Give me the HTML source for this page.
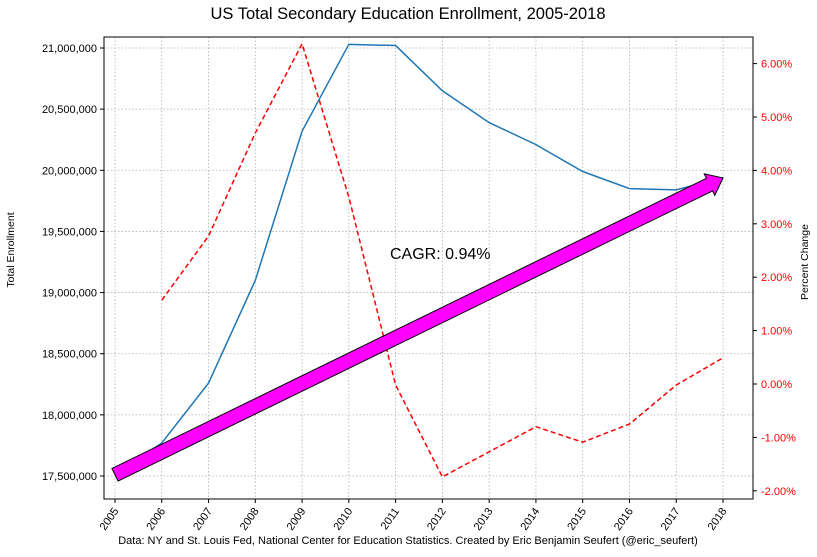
<!DOCTYPE html>
<html><head><meta charset="utf-8"><style>
body{margin:0;background:#fff;font-family:"Liberation Sans",sans-serif;}
svg text{font-family:"Liberation Sans",sans-serif;}
</style></head><body>
<svg id="c" width="817" height="552"></svg>
<script>
const years=[2005,2006,2007,2008,2009,2010,2011,2012,2013,2014,2015,2016,2017,2018];
const enrollment=[17510000,17770000,18260000,19100000,20320000,21030000,21020000,20650000,20390000,20210000,19990000,19850000,19840000,19940000];
const pctYears=[2006,2007,2008,2009,2010,2011,2012,2013,2014,2015,2016,2017,2018];
const pctChange=[1.57,2.77,4.70,6.37,3.50,-0.02,-1.74,-1.27,-0.80,-1.09,-0.75,-0.02,0.49];
const leftTicks=[17500000,18000000,18500000,19000000,19500000,20000000,20500000,21000000];
const rightTicks=[-2,-1,0,1,2,3,4,5,6];
const NS="http://www.w3.org/2000/svg";
const svg=document.getElementById('c');
const L=104,R=753,T=37,B=499;
const x=y=>115+(y-2005)*(723-115)/13;
const yl=v=>476-(v-17500000)*(428/3500000);
const yr=v=>384-v*53.4;
function mk(t,a,p){const e=document.createElementNS(NS,t);for(const k in a)e.setAttribute(k,a[k]);(p||svg).appendChild(e);return e;}
const grid=mk('g',{});


years.forEach(yv=>mk('line',{x1:x(yv),x2:x(yv),y1:T,y2:B,stroke:'#b0b0b0','stroke-dasharray':'1.5,2','stroke-width':0.8},grid));
leftTicks.forEach(v=>mk('line',{x1:L,x2:R,y1:yl(v),y2:yl(v),stroke:'#b0b0b0','stroke-dasharray':'1.5,2','stroke-width':0.8},grid));
mk('rect',{x:L,y:T,width:R-L,height:B-T,fill:'none',stroke:'#000','stroke-width':1});
const lax=mk('g',{});


leftTicks.forEach(v=>{mk('line',{x1:L-4,x2:L,y1:yl(v),y2:yl(v),stroke:'#000'},lax);
 const t=mk('text',{x:L-7,y:yl(v)+4,'text-anchor':'end','font-size':11},lax);t.textContent=v.toLocaleString('en-US');});
const rax=mk('g',{});


rightTicks.forEach(v=>{mk('line',{x1:R,x2:R+4,y1:yr(v),y2:yr(v),stroke:'#000'},rax);
 const t=mk('text',{x:R+8,y:yr(v)+4,'font-size':11,fill:'red'},rax);t.textContent=v.toFixed(2)+'%';});
const xax=mk('g',{});


years.forEach(yv=>{mk('line',{x1:x(yv),x2:x(yv),y1:B,y2:B+4,stroke:'#000'},xax);
 const t=mk('text',{x:x(yv)+4,y:B+12,'text-anchor':'end','font-size':11,transform:`rotate(-55 ${x(yv)+4} ${B+12})`},xax);t.textContent=yv;});
const pl=mk('polyline',{points:pctYears.map((yv,i)=>x(yv)+','+yr(pctChange[i])).join(' '),fill:'none',stroke:'red','stroke-width':1.5,'stroke-dasharray':'5,3'});


const bl=mk('polyline',{points:years.map((yv,i)=>x(yv)+','+yl(enrollment[i])).join(' '),fill:'none',stroke:'#1f77b4','stroke-width':1.5});


const x0=115,y0=yl(enrollment[0]),x1=723,y1=178;
const dx=x1-x0,dy=y1-y0,len=Math.hypot(dx,dy),ux=dx/len,uy=dy/len,nx=-uy,ny=ux;
const w=7,hw=12,hl=15;
const bx=x1-ux*hl,by=y1-uy*hl;
const pts=[[x0+nx*w,y0+ny*w],[bx+nx*w,by+ny*w],[bx+nx*hw,by+ny*hw],[x1,y1],[bx-nx*hw,by-ny*hw],[bx-nx*w,by-ny*w],[x0-nx*w,y0-ny*w]];
const ar=mk('polygon',{points:pts.map(p=>p.join(',')).join(' '),fill:'#ff00ff',stroke:'#000','stroke-width':1});


const c=mk('text',{x:390,y:259,'font-size':16});c.textContent='CAGR: 0.94%';


const ti=mk('text',{x:408,y:19,'text-anchor':'middle','font-size':16.5});ti.textContent='US Total Secondary Education Enrollment, 2005-2018';


const yt=mk('text',{x:14,y:250,'text-anchor':'middle','font-size':10.5,transform:'rotate(-90 14 250)'});yt.textContent='Total Enrollment';


const rt=mk('text',{x:808,y:262,'text-anchor':'middle','font-size':10.5,transform:'rotate(-90 808 262)'});rt.textContent='Percent Change';


const src=mk('text',{x:408,y:544,'text-anchor':'middle','font-size':11});src.textContent='Data: NY and St. Louis Fed, National Center for Education Statistics. Created by Eric Benjamin Seufert (@eric_seufert)';


</script>
</body></html>
